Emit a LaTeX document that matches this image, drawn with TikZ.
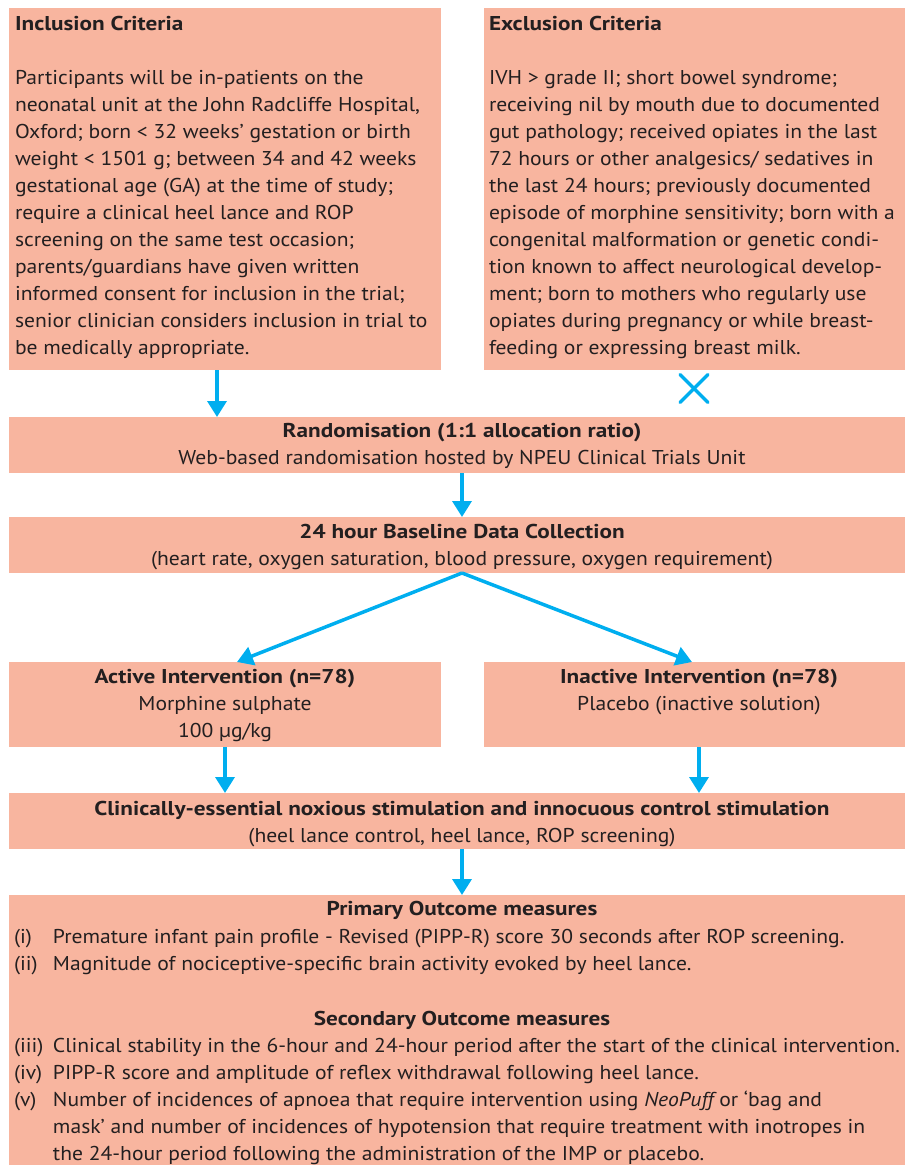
\documentclass[tikz,border=0pt]{standalone}
\usepackage{fontspec}
\setmainfont{PT Sans}[UprightFeatures={FakeStretch=1.08}, ItalicFeatures={FakeStretch=1.08}, BoldFeatures={FakeStretch=1.16}]
\usetikzlibrary{arrows.meta}
\definecolor{boxfill}{RGB}{248,181,159}
\definecolor{arrc}{RGB}{0,174,239}
\definecolor{txt}{RGB}{35,31,32}
\newcommand\bodyfs{\fontsize{20}{27}\selectfont}
\begin{document}
\begin{tikzpicture}[x=1pt,y=-1pt,
  boxn/.style={fill=boxfill, draw=none, inner sep=0, outer sep=0, anchor=north west},
  txl/.style={inner sep=0, outer sep=0, anchor=north west, align=left, font=\bodyfs, text=txt},
  txc/.style={inner sep=0, outer sep=0, anchor=north, align=center, font=\bodyfs, text=txt},
  arr/.style={draw=arrc, line width=3.5pt, -{Triangle[width=19pt,length=16pt]}},
  xmk/.style={draw=arrc, line width=3.5pt, line cap=round}]
\useasboundingbox (0,0) rectangle (905,1165);
% boxes
\node[boxn, minimum width=432pt, minimum height=362pt] (inc) at (9,8) {};
\node[boxn, minimum width=421pt, minimum height=362pt] (exc) at (484,8) {};
\node[boxn, minimum width=896pt, minimum height=56pt] (rand) at (9,417) {};
\node[boxn, minimum width=896pt, minimum height=56pt] (base) at (9,517) {};
\node[boxn, minimum width=432pt, minimum height=85pt] (act) at (9,662) {};
\node[boxn, minimum width=421pt, minimum height=85pt] (inact) at (484,662) {};
\node[boxn, minimum width=896pt, minimum height=56pt] (clin) at (9,793) {};
\node[boxn, minimum width=896pt, minimum height=270pt] (out) at (9,895) {};
% texts
\node[txl] (inct) at (15,11.1) {\strut\textbf{Inclusion Criteria}\\[27pt]
Participants will be in-patients on the\\
neonatal unit at the John Radcliffe Hospital,\\
Oxford; born < 32 weeks’ gestation or birth\\
weight < 1501 g; between 34 and 42 weeks\\
gestational age (GA) at the time of study;\\
require a clinical heel lance and ROP\\
screening on the same test occasion;\\
parents/guardians have given written\\
informed consent for inclusion in the trial;\\
senior clinician considers inclusion in trial to\\
be medically appropriate.};
\node[txl] (exct) at (489,11.1) {\strut\textbf{Exclusion Criteria}\\[27pt]
IVH > grade II; short bowel syndrome;\\
receiving nil by mouth due to documented\\
gut pathology; received opiates in the last\\
72 hours or other analgesics/ sedatives in\\
the last 24 hours; previously documented\\
episode of morphine sensitivity; born with a\\
congenital malformation or genetic condi-\\
tion known to affect neurological develop-\\
ment; born to mothers who regularly use\\
opiates during pregnancy or while breast-\\
feeding or expressing breast milk.};
\node[txc] (randt) at (462,418.1) {\strut\textbf{Randomisation (1:1 allocation ratio)}\\
Web-based randomisation hosted by NPEU Clinical Trials Unit};
\node[txc] (baset) at (462,519.1) {\strut\textbf{24 hour Baseline Data Collection}\\
(heart rate, oxygen saturation, blood pressure, oxygen requirement)};
\node[txc] (actt) at (225,664.1) {\strut\textbf{Active Intervention (n=78)}\\
Morphine sulphate\\ 100 µg/kg};
\node[txc] (inactt) at (699,664.1) {\strut\textbf{Inactive Intervention (n=78)}\\
Placebo (inactive solution)};
\node[txc] (clint) at (462,796.1) {\strut\textbf{Clinically-essential noxious stimulation and innocuous control stimulation}\\
(heel lance control, heel lance, ROP screening)};
\node[txc] (primh) at (462,896.1) {\strut\textbf{Primary Outcome measures}};
\node[txl] (primi) at (14,924.1) {\strut\makebox[39pt][l]{(i)}Premature infant pain profile - Revised (PIPP-R) score 30 seconds after ROP screening.\\
\makebox[39pt][l]{(ii)}Magnitude of nociceptive-specific brain activity evoked by heel lance.};
\node[txc] (sech) at (462,1006.1) {\strut\textbf{Secondary Outcome measures}};
\node[txl] (seci) at (14,1033.1) {\strut\makebox[39pt][l]{(iii)}Clinical stability in the 6-hour and 24-hour period after the start of the clinical intervention.\\
\makebox[39pt][l]{(iv)}PIPP-R score and amplitude of reflex withdrawal following heel lance.\\
\makebox[39pt][l]{(v)}Number of incidences of apnoea that require intervention using {\itshape NeoPuff} or ‘bag and\\
\hspace*{39pt}mask’ and number of incidences of hypotension that require treatment with inotropes in\\
\hspace*{39pt}the 24-hour period following the administration of the IMP or placebo.};
% connectors
\draw[arr] ([xshift=-8pt]inc.south) -- ([xshift=-8pt]inc.south |- rand.north);
\draw[arr] ([xshift=5pt]rand.south) -- ([xshift=5pt]rand.south |- base.north);
\draw[arr] ([xshift=5pt]base.south) -- ([xshift=12pt]act.north);
\draw[arr] ([xshift=5pt]base.south) -- ([xshift=-2.5pt]inact.north);
\draw[arr] (act.south) -- (act.south |- clin.north);
\draw[arr] ([xshift=4.5pt]inact.south) -- ([xshift=4.5pt]inact.south |- clin.north);
\draw[arr] ([xshift=5pt]clin.south) -- ([xshift=5pt]clin.south |- out.north);
% cross under exclusion
\coordinate (xm) at (694,388.5);
\draw[xmk] ([shift={(-14,-14)}]xm) -- ([shift={(14,14)}]xm);
\draw[xmk] ([shift={(-14,14)}]xm) -- ([shift={(14,-14)}]xm);
\end{tikzpicture}
\end{document}
